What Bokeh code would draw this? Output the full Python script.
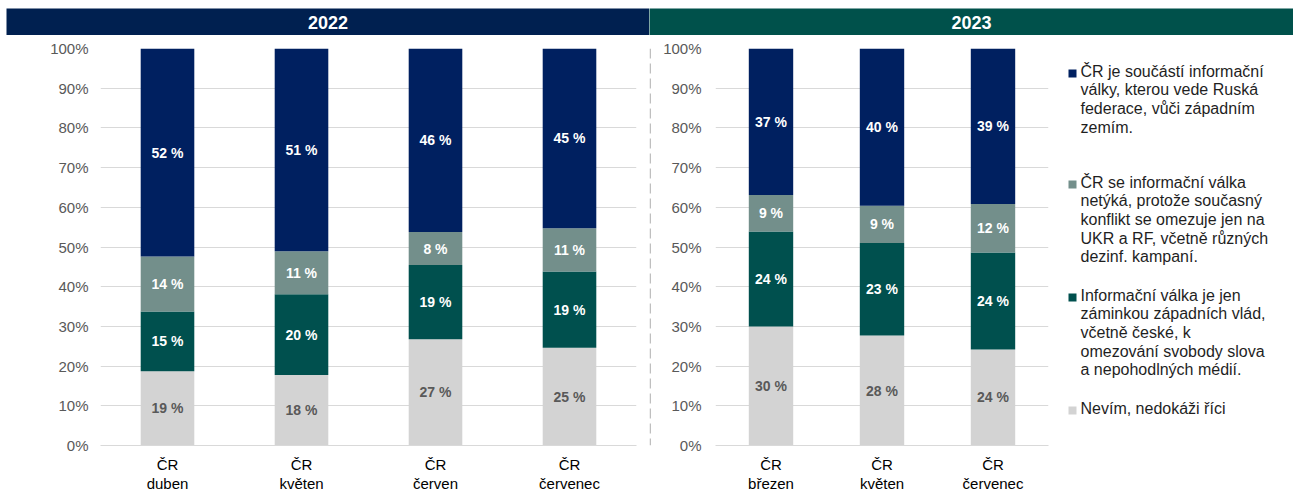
from bokeh.plotting import figure
from bokeh.layouts import column, row
from bokeh.models import (ColumnDataSource, Range1d, FactorRange, NumeralTickFormatter,
                          FixedTicker, Span)
from bokeh.core.properties import value
from bokeh.embed import file_html
from bokeh.resources import INLINE

# ---------------- data ----------------
years = ["2022", "2023"]
months22 = ["duben", "květen", "červen", "červenec"]
months23 = ["březen", "květen", "červenec"]

# values in %, stacked bottom -> top
nevim22 = [18.7, 17.75, 26.75, 24.6]
zaminka22 = [15.05, 20.35, 18.7, 19.25]
netyka22 = [13.85, 10.8, 8.3, 10.85]
soucast22 = [52.4, 51.1, 46.25, 45.3]

nevim23 = [30.0, 27.7, 24.2]
zaminka23 = [23.9, 23.3, 24.4]
netyka23 = [9.2, 9.4, 12.2]
soucast23 = [36.9, 39.6, 39.2]

series_names = [
    "Nevím, nedokáži říci",
    "Informační válka je jen\nzáminkou západních vlád,\nvčetně české, k\nomezování svobody slova\na nepohodlných médií.",
    "ČR se informační válka\nnetýká, protože současný\nkonflikt se omezuje jen na\nUKR a RF, včetně různých\ndezinf. kampaní.",
    "ČR je součástí informační\nválky, kterou vede Ruská\nfederace, vůči západním\nzemím.",
]
colors = ["#D3D3D3", "#00504E", "#738F8B", "#002060"]
label_colors = ["#595959", "white", "white", "white"]
header_colors = ["#002050", "#00514B"]

FONT = "Liberation Sans"
keys = ["s0", "s1", "s2", "s3"]
TOP = 8
HEADER_H = 27
CHART_H = 460


def make_chart(months, series, width, border_left, border_right, border_top, y_standoff):
    factors = ["ČR\n" + m for m in months]
    data = {"x": factors}
    for k, s in zip(keys, series):
        data[k] = [v / 100.0 for v in s]
    src = ColumnDataSource(data)

    p = figure(width=width, height=CHART_H, x_range=FactorRange(*factors), y_range=Range1d(0, 1),
               toolbar_location=None, output_backend="svg",
               min_border_left=border_left, min_border_right=border_right,
               min_border_top=border_top, min_border_bottom=0)
    p.outline_line_color = None
    p.background_fill_color = "white"
    p.border_fill_color = "white"
    p.x_range.range_padding = 0
    p.vbar_stack(keys, x="x", width=0.4, color=colors, source=src, line_color=None)

    # labels at segment centres
    lx, ly, lt, lc = [], [], [], []
    for i, f in enumerate(factors):
        bottom = 0.0
        for j, s in enumerate(series):
            v = s[i]
            lx.append(f)
            ly.append((bottom + v / 2.0) / 100.0)
            lt.append(f"{round(v)} %")
            lc.append(label_colors[j])
            bottom += v
    lsrc = ColumnDataSource(dict(x=lx, y=ly, t=lt, c=lc))
    p.text(x="x", y="y", text="t", text_color="c", source=lsrc, text_align="center",
           text_baseline="middle", text_font=value(FONT), text_font_style="bold",
           text_font_size="14px")

    ticks = [i / 10 for i in range(11)]
    p.xgrid.grid_line_color = None
    p.ygrid.grid_line_color = "#D9D9D9"
    p.ygrid.ticker = FixedTicker(ticks=ticks)
    p.yaxis.ticker = FixedTicker(ticks=ticks)
    p.yaxis.formatter = NumeralTickFormatter(format="0%")
    p.yaxis.axis_line_color = None
    p.yaxis.major_tick_line_color = None
    p.yaxis.minor_tick_line_color = None
    p.yaxis.major_tick_out = 0
    p.yaxis.major_tick_in = 0
    p.yaxis.minor_tick_out = 0
    p.yaxis.major_label_text_font = FONT
    p.yaxis.major_label_text_font_size = "15px"
    p.yaxis.major_label_text_color = "#595959"
    p.yaxis.major_label_standoff = y_standoff

    p.xaxis.axis_line_color = "#D9D9D9"
    p.xaxis.major_tick_line_color = None
    p.xaxis.minor_tick_line_color = None
    p.xaxis.major_tick_out = 0
    p.xaxis.major_tick_in = 0
    p.xaxis.minor_tick_out = 0
    p.xaxis.major_label_text_font = FONT
    p.xaxis.major_label_text_font_size = "15px"
    p.xaxis.major_label_text_line_height = 1.16
    p.xaxis.major_label_text_color = "#000000"
    p.xaxis.major_label_standoff = 10
    return p


def make_legend(x0, width, frame_top, frame_bottom):
    # a plain panel whose data units are page pixels (layout only)
    top = TOP + HEADER_H
    lg = figure(width=width, height=CHART_H,
                x_range=Range1d(x0, x0 + width), y_range=Range1d(frame_bottom, frame_top),
                x_axis_location=None, y_axis_location=None,
                toolbar_location=None, output_backend="svg",
                min_border_left=0, min_border_right=0,
                min_border_top=frame_top - top, min_border_bottom=top + CHART_H - frame_bottom)
    lg.grid.visible = False
    lg.outline_line_color = None
    order = [3, 2, 1, 0]
    first_line_y = [73, 184, 297, 410]  # legend entry positions (page px)
    lg.scatter(x=[x0 + 22] * 4, y=first_line_y, marker="square", size=8,
               color=[colors[j] for j in order], line_color=None)
    lg.text(x=[x0 + 30] * 4, y=[y - 11 for y in first_line_y],
            text=[series_names[j] for j in order],
            text_align="left", text_baseline="top", text_font=value(FONT),
            text_font_size="16px", text_line_height=1.1, text_color="#1F1F1F")
    return lg


def make_header(text, color, width):
    h = figure(width=width, height=HEADER_H, x_range=Range1d(0, 1), y_range=Range1d(0, 1),
               toolbar_location=None, output_backend="svg", min_border=0)
    h.axis.visible = False
    h.grid.visible = False
    h.outline_line_color = None
    h.background_fill_color = color
    h.border_fill_color = color
    h.text(x=[0.5], y=[0.5], text=[text], text_color="white", text_align="center",
           text_baseline="middle", text_font=value(FONT), text_font_style="bold",
           text_font_size="18px")
    return h


h1 = make_header(years[0], header_colors[0], 643)
h2 = make_header(years[1], header_colors[1], 644)

c1 = make_chart(months22, [nevim22, zaminka22, netyka22, soucast22], 643, 94, 13, 12, 12)
c2 = make_chart(months23, [nevim23, zaminka23, netyka23, soucast23], 399, 64, 2, 13, 14)
lg = make_legend(1050, 243, 48, 445)

sep = figure(width=2, height=CHART_H, x_range=Range1d(0, 1), y_range=Range1d(0, 1),
             toolbar_location=None, output_backend="svg", min_border=0)
sep.axis.visible = False
sep.grid.visible = False
sep.outline_line_color = None
sep.add_layout(Span(location=0.5, dimension="height", line_color="#BFBFBF",
                    line_width=2, line_dash="10 5"))

layout = column(row(h1, h2), row(c1, sep, c2, lg), margin=(TOP, 0, 0, 6))

with open("out.html", "w") as f:
    f.write(file_html(layout, INLINE))
